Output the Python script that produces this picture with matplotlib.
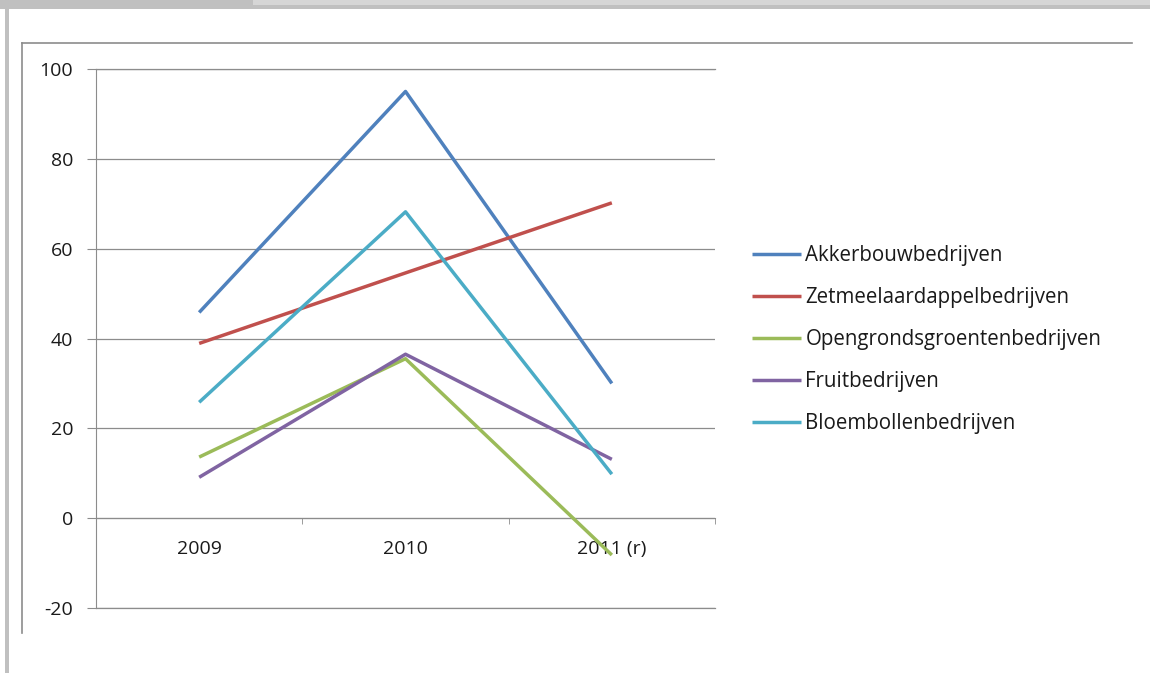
import matplotlib.pyplot as plt
from matplotlib.lines import Line2D
from matplotlib.patches import Rectangle

# data
years = ['2009', '2010', '2011 (r)']
akkerbouw = [45.8, 95.0, 30.0]
zetmeel = [38.9, 54.6, 70.2]
opengronds = [13.6, 35.5, -8.2]
fruit = [9.1, 36.5, 13.1]
bloembollen = [25.8, 68.2, 9.8]

series = ['Akkerbouwbedrijven', 'Zetmeelaardappelbedrijven', 'Opengrondsgroentenbedrijven',
          'Fruitbedrijven', 'Bloembollenbedrijven']
values = [akkerbouw, zetmeel, opengronds, fruit, bloembollen]
colors = ['#4F81BD', '#C0504D', '#9BBB59', '#8064A2', '#4BACC6']
y_ticks = [-20, 0, 20, 40, 60, 80, 100]

plt.rcParams['font.family'] = ['Open Sans', 'DejaVu Sans']
plt.rcParams['axes.unicode_minus'] = False
W, H = 1150, 673
fig = plt.figure(figsize=(W / 100, H / 100), dpi=100)

# window chrome around the chart
def px_rect(x0, y0, x1, y1, color):
    fig.patches.append(Rectangle((x0 / W, 1 - y1 / H), (x1 - x0) / W, (y1 - y0) / H,
                                 transform=fig.transFigure, color=color, lw=0, zorder=0))

px_rect(0, 0, 253, 5, '#c0c0c0')
px_rect(253, 0, W, 5, '#d6d6d6')
px_rect(0, 5, W, 9, '#c0c0c0')
px_rect(5, 9, 9, H, '#c0c0c0')
fig.lines.append(Line2D([22 / W, 1132 / W], [1 - 43 / H, 1 - 43 / H], transform=fig.transFigure,
                        color='#8c8c8c', lw=1.2))
fig.lines.append(Line2D([22 / W, 22 / W], [1 - 43 / H, 1 - 633 / H], transform=fig.transFigure,
                        color='#8c8c8c', lw=1.2))

left, right, top, bottom = 96, 715, 69, 608
ax = fig.add_axes([left / W, 1 - bottom / H, (right - left) / W, (bottom - top) / H])

x = range(len(years))
for name, vals, c in zip(series, values, colors):
    ax.plot(x, vals, color=c, lw=2.5, label=name, solid_capstyle='butt', zorder=3)

grey = '#8c8c8c'
txt = '#1a1a1a'
ax.set_xlim(-0.5, len(years) - 0.5)
ax.set_ylim(-20, 100)
ax.set_yticks(y_ticks)
ax.yaxis.grid(True, color=grey, lw=0.9)
ax.axhline(-20, color=grey, lw=0.9, clip_on=False, zorder=1)
ax.axhline(100, color=grey, lw=0.9, clip_on=False, zorder=1)
ax.set_axisbelow(True)

for s in ['top', 'right']:
    ax.spines[s].set_visible(False)
ax.spines['left'].set_color(grey)
ax.spines['bottom'].set_color(grey)
ax.spines['bottom'].set_position(('data', 0))

ax.set_xticks(list(x))
ax.set_xticklabels(years)
ax.set_xticks([-0.5, 0.5, 1.5, 2.5], minor=True)
ax.tick_params(axis='x', which='major', length=0, pad=16, labelsize=14, labelcolor=txt)
ax.tick_params(axis='x', which='minor', length=4, color=grey, direction='out')
ax.tick_params(axis='y', length=6.5, color=grey, pad=10, labelsize=14, labelcolor=txt)

handles, labels = ax.get_legend_handles_labels()
leg = fig.legend(handles, labels, loc='upper left', bbox_to_anchor=(752 / W, 1 - 245 / H),
                 frameon=False, fontsize=14.8, handlelength=2.4, handletextpad=0.2,
                 labelspacing=1.02, borderaxespad=0, borderpad=0)
for t in leg.get_texts():
    t.set_color(txt)

fig.savefig('out.png', dpi=100, facecolor='white')
